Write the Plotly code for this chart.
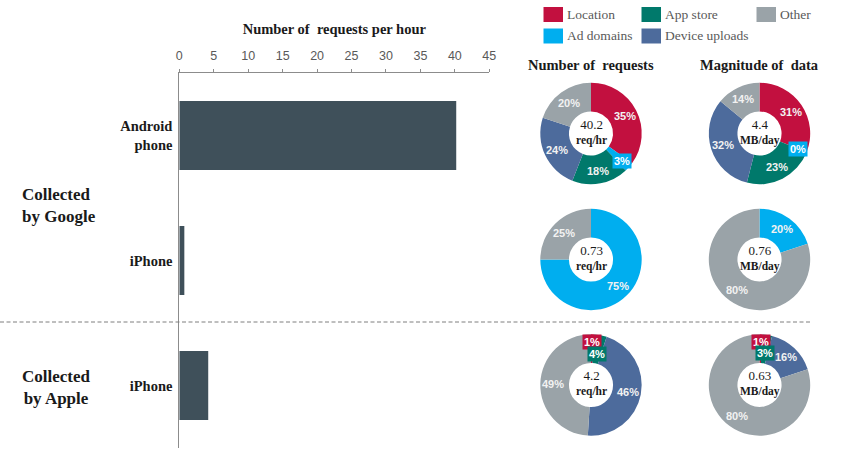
import math
import plotly.graph_objects as go

W, H = 860, 458
SERIF = "Liberation Serif"
SANS = "Liberation Sans"

categories = ["Location", "Ad domains", "App store", "Device uploads", "Other"]
colors = ["#C2103F", "#00AEEF", "#00796B", "#4D6B9C", "#9AA3A8"]

devices = ["Android<br>phone", "iPhone", "iPhone"]
requests_per_hour = [40.2, 0.73, 4.2]
x_ticks = [0, 5, 10, 15, 20, 25, 30, 35, 40, 45]

requests_android = [35, 3, 18, 24, 20]
requests_iphone_google = [0, 75, 0, 0, 25]
requests_iphone_apple = [1, 0, 4, 46, 49]
data_android = [31, 0, 23, 32, 14]
data_iphone_google = [0, 20, 0, 0, 80]
data_iphone_apple = [1, 0, 3, 16, 80]

request_centres = ["40.2<br>req/hr", "0.73<br>req/hr", "4.2<br>req/hr"]
data_centres = ["4.4<br>MB/day", "0.76<br>MB/day", "0.63<br>MB/day"]

col_x = [591, 759.5]
row_y = [133.5, 259.5, 385]
R = 50.7


def px(x):
    return x / W


def py(y):
    return 1 - y / H


fig = go.Figure()
fig.add_trace(go.Bar(
    x=requests_per_hour, y=[0, 1, 2], orientation="h", width=0.552,
    marker=dict(color="#3F505A", line=dict(width=0)), hoverinfo="x", showlegend=False,
))

annotations = []


def note(x, y, text, **kw):
    font = kw.pop("font", dict(family=SERIF, size=12, color="#1a1a1a"))
    kw.setdefault("xanchor", "center")
    kw.setdefault("yanchor", "middle")
    annotations.append(dict(x=px(x), y=py(y), xref="paper", yref="paper", text=text,
                            showarrow=False, font=font, **kw))


panels = [
    (0, 0, requests_android, request_centres[0]),
    (0, 1, data_android, data_centres[0]),
    (1, 0, requests_iphone_google, request_centres[1]),
    (1, 1, data_iphone_google, data_centres[1]),
    (2, 0, requests_iphone_apple, request_centres[2]),
    (2, 1, data_iphone_apple, data_centres[2]),
]

for row, col, values, centre in panels:
    cx, cy = col_x[col], row_y[row]
    fig.add_trace(go.Pie(
        labels=categories, values=values, sort=False, direction="clockwise", rotation=0,
        hole=0.435, textinfo="none", showlegend=False,
        marker=dict(colors=colors, line=dict(width=0)),
        domain=dict(x=[px(cx - R), px(cx + R)], y=[py(cy + R), py(cy - R)]),
    ))
    lines = centre.split("<br>")
    note(cx, cy - 2,
         f"<span style='font-size:13px'>{lines[0]}</span><br><b>{lines[1]}</b>",
         font=dict(family=SERIF, size=11.5, color="#1a1a1a"))
    # percent labels sit mid-ring on each slice; tiny slices get a coloured plate
    total = sum(values)
    running = 0
    for i, v in enumerate(values):
        mid = (running + v / 2) / total * 2 * math.pi
        running += v
        if v == 0 and not (categories[i] == "Ad domains" and row == 0 and col == 1):
            continue
        small = v <= 4
        r = 41 if small else 38
        if row == 2 and small:
            r = 43 if v == 1 else 32
        lx, ly = cx + r * math.sin(mid), cy - r * math.cos(mid)
        kw = dict(bgcolor=colors[i], borderpad=1) if small else {}
        note(lx, ly, f"<b>{v}%</b>",
             font=dict(family=SANS, size=11, color="#ffffff" if small else "#F2F2F2"), **kw)

# column titles
note(591, 65, "<b>Number of  requests</b>", font=dict(family=SERIF, size=14.5, color="#1a1a1a"))
note(759.5, 65, "<b>Magnitude of  data</b>", font=dict(family=SERIF, size=14.5, color="#1a1a1a"))

# group labels
note(59, 205.5, "<b>Collected<br>by Google</b>", font=dict(family=SERIF, size=17, color="#1a1a1a"), align="left")
note(57, 387.5, "<b>Collected<br>by Apple</b>", font=dict(family=SERIF, size=17, color="#1a1a1a"), align="center")

# legend
shapes = []
legend_cells = [(543.5, 7), (543.5, 28.5), (641.5, 7), (641.5, 28.5), (756.5, 7)]
for name, color, (lx, ly) in zip(categories, colors, legend_cells):
    shapes.append(dict(type="rect", xref="paper", yref="paper", x0=px(lx), x1=px(lx + 19.5),
                       y0=py(ly + 15), y1=py(ly), fillcolor=color, line=dict(width=0)))
    note(lx + 21.5, ly + 7.5, name, xanchor="left",
         font=dict(family=SERIF, size=13.5, color="#595959"))

# divider
shapes.append(dict(type="line", xref="paper", yref="paper", x0=0, x1=px(810), y0=py(322), y1=py(322),
                   line=dict(color="#7F7F7F", width=1, dash="4px,2.5px")))

fig.update_layout(
    width=W, height=H, margin=dict(l=0, r=0, t=0, b=0, autoexpand=False),
    paper_bgcolor="white", plot_bgcolor="white", showlegend=False,
    bargap=0.448,
    annotations=annotations, shapes=shapes,
    xaxis=dict(
        domain=[px(179.3), px(489.3)], range=[0, 45], side="top", tickmode="array", tickvals=x_ticks,
        showgrid=False, zeroline=False, showline=True, linecolor="#8C8C8C", linewidth=1,
        ticks="outside", ticklen=3, tickcolor="#8C8C8C", ticklabelstandoff=4,
        tickfont=dict(family=SANS, size=12.5, color="#595959"),
        title=dict(text="<b>Number of  requests per hour</b>", standoff=10,
                   font=dict(family=SERIF, size=14.5, color="#1a1a1a")),
        anchor="y",
    ),
    yaxis=dict(
        domain=[py(448), py(73)], range=[2.5, -0.5], tickmode="array", tickvals=[0, 1, 2], ticktext=devices,
        showgrid=False, zeroline=False, showline=True, linecolor="#8C8C8C", linewidth=1,
        ticks="", ticklabelstandoff=3,
        tickfont=dict(family=SERIF, size=14.5, color="#1a1a1a", weight="bold"),
        anchor="x",
    ),
)

fig.write_html("out.html", config=dict(displayModeBar=False),
               post_script="document.body.style.margin='0';")
